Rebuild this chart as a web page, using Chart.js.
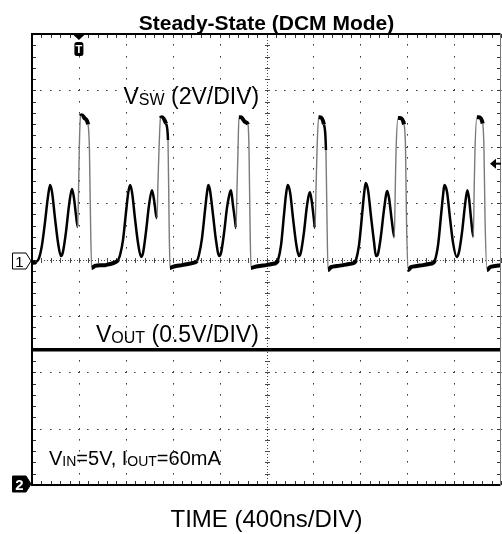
<!DOCTYPE html>
<html>
<head>
<meta charset="utf-8">
<script src="https://cdn.jsdelivr.net/npm/chart.js@4.4.1/dist/chart.umd.min.js"></script>
<style>
  html, body { margin: 0; padding: 0; background: #fff; }
  #wrap { width: 502px; height: 534px; }
</style>
</head>
<body>
<div id="wrap"><canvas id="scope" width="502" height="534"></canvas></div>
<script>
// graticule: 400 ns/div on time, ch1 2 V/div, ch2 0.5 V/div
const timeTicks = [0, 400, 800, 1200, 1600, 2000, 2400, 2800, 3200, 3600, 4000];
const ch1Ticks = [-8, -6, -4, -2, 0, 2, 4, 6, 8];
const ch2Ticks = [0, 0.5, 1, 1.5, 2, 2.5, 3, 3.5, 4];

// V_SW trace (ns, V)
const swTime = [
  0, 34, 60, 85, 111, 136, 154, 171, 196, 222, 247, 264, 290, 316, 341, 358, 375, 390, 397, 403, 414, 426, 452, 478, 490, 499, 509,
  537, 580, 623, 665, 699, 734, 751, 776, 802, 819, 836, 853, 878, 904, 930, 947, 972, 998, 1023, 1041, 1058, 1066, 1075, 1083, 1096, 1109, 1143, 1160, 1169, 1177,
  1194, 1228, 1279, 1331, 1373, 1407, 1424, 1450, 1476, 1493, 1504, 1518, 1544, 1569, 1597, 1612, 1638, 1663, 1689, 1697, 1714, 1731, 1740, 1748, 1757, 1765, 1783, 1817, 1842, 1851, 1859, 1868,
  1893, 1945, 1996, 2047, 2081, 2098, 2124, 2149, 2166, 2181, 2201, 2226, 2252, 2277, 2294, 2320, 2345, 2371, 2388, 2405, 2414, 2422, 2431, 2444, 2456, 2490, 2507, 2516, 2525,
  2550, 2602, 2653, 2704, 2747, 2763, 2789, 2815, 2832, 2846, 2866, 2891, 2917, 2934, 2951, 2977, 3002, 3030, 3045, 3070, 3090, 3098, 3105, 3122, 3139, 3173, 3186, 3194, 3207,
  3233, 3284, 3335, 3386, 3420, 3437, 3463, 3489, 3506, 3517, 3540, 3565, 3591, 3622, 3642, 3668, 3693, 3713, 3727, 3744, 3764, 3771, 3778, 3795, 3812, 3844, 3855, 3864, 3881,
  3906, 3949, 4000
];
const swVolt = [
  -0.12, -0.09, 0.05, 0.51, 1.33, 2.22, 2.64, 2.39, 1.47, 0.59, 0.12, 0.27, 0.98, 1.93, 2.50, 2.18, 1.58, 1.15, 2.46, 3.88, 5.09, 5.12, 5.00, 4.79, 3.88, 1.40, -0.30,
  -0.23, -0.20, -0.20, -0.16, -0.12, -0.02, 0.16, 0.69, 1.68, 2.32, 2.64, 2.39, 1.47, 0.59, 0.09, 0.23, 0.98, 1.93, 2.46, 2.11, 1.58, 1.47, 2.82, 3.88, 5.02, 5.05, 4.82, 4.24, 1.40, -0.30,
  -0.27, -0.23, -0.20, -0.16, -0.12, -0.05, 0.16, 0.76, 1.76, 2.39, 2.64, 2.46, 1.58, 0.69, 0.12, 0.23, 0.94, 1.83, 2.39, 2.46, 1.93, 1.40, 1.12, 2.46, 3.88, 5.05, 5.05, 4.88, 4.79, 3.88, 1.40, -0.30,
  -0.27, -0.23, -0.20, -0.16, -0.12, -0.02, 0.51, 1.58, 2.29, 2.64, 2.39, 1.47, 0.59, 0.12, 0.27, 0.98, 1.90, 2.39, 2.00, 1.40, 1.12, 2.46, 3.88, 5.05, 5.05, 4.79, 3.88, 1.40, -0.37,
  -0.27, -0.23, -0.20, -0.16, -0.12, -0.02, 0.51, 1.58, 2.32, 2.71, 2.46, 1.54, 0.62, 0.12, 0.20, 0.87, 1.76, 2.43, 2.18, 1.33, 0.80, 2.46, 3.88, 5.02, 5.02, 4.79, 3.88, 1.40, -0.37,
  -0.27, -0.23, -0.20, -0.16, -0.12, -0.02, 0.51, 1.58, 2.29, 2.64, 2.39, 1.47, 0.59, 0.09, 0.27, 0.98, 1.93, 2.46, 2.18, 1.47, 0.80, 2.46, 3.88, 5.05, 5.05, 4.82, 3.88, 1.40, -0.37,
  -0.27, -0.23, -0.20
];

// V_OUT trace (flat)
const outTime = [0, 1000, 2000, 3000, 4000];
const outVolt = [1.2, 1.2, 1.2, 1.2, 1.2];

const FONT = '"Liberation Sans", Arial, Helvetica, sans-serif';

function richText(ctx, parts, x, y) {
  let cx = x;
  parts.forEach((p) => {
    ctx.font = (p.bold ? 'bold ' : '') + p.size + 'px ' + FONT;
    ctx.fillText(p.text, cx, y + (p.dy || 0));
    cx += ctx.measureText(p.text).width;
  });
}

function line(ctx, x1, y1, x2, y2) {
  ctx.beginPath();
  ctx.moveTo(x1, y1);
  ctx.lineTo(x2, y2);
  ctx.stroke();
}

// subdivision positions (5 per division)
function subPixels(scale, ticks) {
  const out = [];
  for (let i = 0; i < ticks.length - 1; i++) {
    const step = (ticks[i + 1] - ticks[i]) / 5;
    for (let k = 0; k < 5; k++) out.push(scale.getPixelForValue(ticks[i] + k * step));
  }
  out.push(scale.getPixelForValue(ticks[ticks.length - 1]));
  return out;
}

const graticule = {
  id: 'graticule',
  beforeDatasetsDraw(chart) {
    const { ctx, chartArea: a, scales: { x, y } } = chart;
    const xs = subPixels(x, timeTicks);
    const ys = subPixels(y, ch1Ticks);
    ctx.save();
    ctx.fillStyle = '#3c3c3c';

    timeTicks.slice(1, -1).forEach((t) => {
      if (t === 2000) return;
      const px = x.getPixelForValue(t);
      ys.forEach((py) => ctx.fillRect(Math.round(px), Math.round(py) - 1, 1, 1.6));
    });
    ch1Ticks.slice(1, -1).forEach((v) => {
      if (v === 0) return;
      const py = y.getPixelForValue(v);
      xs.forEach((px) => ctx.fillRect(Math.round(px) - 1, Math.round(py), 1.6, 1));
    });

    // centre cross
    const cx = Math.round(x.getPixelForValue(2000)) + 0.5;
    const cy = Math.round(y.getPixelForValue(0)) + 0.5;
    ctx.strokeStyle = '#4a4a4a';
    ctx.lineWidth = 1;
    ctx.setLineDash([1, 2]);
    line(ctx, cx, a.top, cx, a.bottom);
    line(ctx, a.left, cy, a.right, cy);
    ctx.setLineDash([]);
    xs.forEach((px) => line(ctx, Math.round(px) + 0.5, cy - 2.5, Math.round(px) + 0.5, cy + 2.5));
    ys.forEach((py) => line(ctx, cx - 2.5, Math.round(py) + 0.5, cx + 2.5, Math.round(py) + 0.5));

    // ticks along the frame
    ctx.strokeStyle = '#333';
    xs.forEach((px) => {
      const r = Math.round(px) + 0.5;
      line(ctx, r, a.top, r, a.top + 4);
      line(ctx, r, a.bottom - 4, r, a.bottom);
    });
    ys.forEach((py) => {
      const r = Math.round(py) + 0.5;
      line(ctx, a.left, r, a.left + 4, r);
      line(ctx, a.right - 4, r, a.right, r);
    });
    ctx.restore();
  }
};

const overlay = {
  id: 'overlay',
  afterDatasetsDraw(chart) {
    const { ctx, chartArea: a, scales: { x, y, y2 } } = chart;
    ctx.save();

    // frame
    ctx.fillStyle = '#000';
    ctx.fillRect(a.left - 1, a.top - 1, a.right - a.left + 1, 2);
    ctx.fillRect(a.left - 1, a.top - 1, 2, a.bottom - a.top + 2);
    ctx.fillRect(a.left - 1, a.bottom - 1, a.right - a.left + 1, 2);
    ctx.fillStyle = '#777';
    ctx.fillRect(a.right - 1, a.top - 1, 1, a.bottom - a.top + 2);

    // trigger marker "T"
    const tx = x.getPixelForValue(400);
    ctx.fillStyle = '#000';
    ctx.beginPath();
    ctx.moveTo(tx - 6.5, a.top);
    ctx.lineTo(tx + 6.5, a.top);
    ctx.lineTo(tx, a.top + 6);
    ctx.closePath();
    ctx.fill();
    ctx.beginPath();
    ctx.roundRect(tx - 4.5, a.top + 8, 9, 14, 2.5);
    ctx.fill();
    ctx.fillStyle = '#fff';
    ctx.font = 'bold 11px ' + FONT;
    ctx.textAlign = 'center';
    ctx.fillText('T', tx, a.top + 19);

    // trigger level arrow on the right
    const ty = y.getPixelForValue(3.4);
    ctx.fillStyle = '#000';
    ctx.strokeStyle = '#000';
    ctx.lineWidth = 2;
    line(ctx, a.right - 6, ty, a.right, ty);
    ctx.beginPath();
    ctx.moveTo(a.right - 11, ty);
    ctx.lineTo(a.right - 5, ty - 5);
    ctx.lineTo(a.right - 5, ty + 5);
    ctx.closePath();
    ctx.fill();

    // channel ground markers
    const marker = (cy, label, filled) => {
      ctx.beginPath();
      ctx.moveTo(12.5, cy - 8);
      ctx.lineTo(26, cy - 8);
      ctx.lineTo(31, cy);
      ctx.lineTo(26, cy + 8);
      ctx.lineTo(12.5, cy + 8);
      ctx.closePath();
      ctx.fillStyle = filled ? '#000' : '#fff';
      ctx.fill();
      ctx.lineWidth = 1;
      ctx.strokeStyle = '#000';
      ctx.stroke();
      ctx.fillStyle = filled ? '#fff' : '#000';
      ctx.font = (filled ? 'bold ' : '') + '15px ' + FONT;
      ctx.textAlign = 'center';
      ctx.fillText(label, 19.5, cy + 5.5);
    };
    marker(y.getPixelForValue(0) + 1.5, '1', false);
    marker(y2.getPixelForValue(0) - 1, '2', true);

    // text
    ctx.fillStyle = '#000';
    ctx.textAlign = 'left';
    richText(ctx, [{ text: 'V', size: 23 }, { text: 'SW', size: 16, dy: 1 }, { text: ' (2V/DIV)', size: 23 }], 123.5, 103.5);
    richText(ctx, [{ text: 'V', size: 23 }, { text: 'OUT', size: 16, dy: 1 }, { text: ' (0.5V/DIV)', size: 23 }], 96, 341.5);
    richText(ctx, [
      { text: 'V', size: 20 }, { text: 'IN', size: 14, dy: 1 }, { text: '=5V, I', size: 20 },
      { text: 'OUT', size: 14, dy: 1 }, { text: '=60mA', size: 20 }
    ], 49, 464.5);

    const mid = (a.left + a.right) / 2;
    ctx.textAlign = 'center';
    ctx.font = 'bold 21px ' + FONT;
    ctx.fillText('Steady-State (DCM Mode)', mid, 29.5);
    ctx.font = '24px ' + FONT;
    ctx.fillText('TIME (400ns/DIV)', mid, 527);
    ctx.restore();
  }
};

const steep = (c) => Math.abs(c.p1.y - c.p0.y) > 15 * Math.abs(c.p1.x - c.p0.x);

const ctx = document.getElementById('scope').getContext('2d');
new Chart(ctx, {
  type: 'line',
  data: {
    datasets: [
      {
        label: 'VSW',
        data: swTime.map((t, i) => ({ x: t, y: swVolt[i] })),
        yAxisID: 'y',
        borderColor: '#000',
        borderWidth: 2.5,
        pointRadius: 0,
        cubicInterpolationMode: 'monotone',
        segment: {
          borderColor: (c) => (steep(c) ? '#7a7a7a' : '#000'),
          borderWidth: (c) => {
            if (steep(c)) return 1.4;
            if (c.p0.parsed.y < 0.05 && c.p1.parsed.y < 0.05) return 4;
            if (c.p0.parsed.y > 4.5 && c.p1.parsed.y > 4.5) return 4;
            return 2.5;
          }
        }
      },
      {
        label: 'VOUT',
        data: outTime.map((t, i) => ({ x: t, y: outVolt[i] })),
        yAxisID: 'y2',
        borderColor: '#000',
        borderWidth: 3.5,
        pointRadius: 0
      }
    ]
  },
  options: {
    responsive: false,
    animation: false,
    devicePixelRatio: 1,
    layout: { padding: { left: 32, top: 34, right: 1, bottom: 49 } },
    plugins: { legend: { display: false }, title: { display: false }, tooltip: { enabled: false } },
    scales: {
      x: { type: 'linear', min: timeTicks[0], max: timeTicks[timeTicks.length - 1], display: false },
      y: { min: ch1Ticks[0], max: ch1Ticks[ch1Ticks.length - 1], display: false },
      y2: { min: ch2Ticks[0], max: ch2Ticks[ch2Ticks.length - 1], display: false }
    }
  },
  plugins: [graticule, overlay]
});
</script>
</body>
</html>
